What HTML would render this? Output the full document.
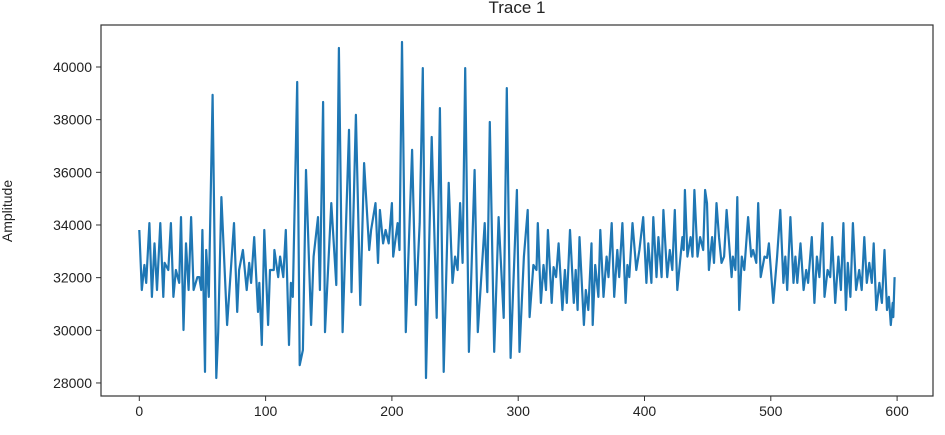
<!DOCTYPE html>
<html><head><meta charset="utf-8"><style>
body{margin:0;background:#fff;}
svg text{font-family:"Liberation Sans","DejaVu Sans",sans-serif;fill:#222;}
</style></head><body>
<svg id="chart" width="945" height="430" viewBox="0 0 945 430" xmlns="http://www.w3.org/2000/svg">
<text x="517" y="13" font-size="17" text-anchor="middle">Trace 1</text>
<text transform="translate(12,211) rotate(-90)" font-size="14" text-anchor="middle">Amplitude</text>
<g id="ticks"></g>
<path id="line" fill="none" stroke="#1f77b4" stroke-width="2.2" stroke-linejoin="round"/>
<rect x="101" y="25" width="832" height="371" fill="none" stroke="#333" stroke-width="1.2"/>
</svg>
<script>
const xTicks=[0,100,200,300,400,500,600];
const yTicks=[28000,30000,32000,34000,36000,38000,40000];
const sampleIdx=[0,2,4,5.5,8,10,12,14,16.6,19,20,23,25,27,29,31.6,33,35,37,39,41,43,46,47.5,49,50,52,53,55,58,61,62.5,65,69.5,75,77.5,79,82,85,87,88.5,91,94,95,97,99,102,103.5,106.5,107,110,111.5,114,116,118.5,120,121.5,125,127,129.5,132,136,138,141.5,143,145.5,147,152,156,158,161,166,168,171.5,175,178,182,183.5,187,189,190.5,193,195,197.5,200,201,204.5,206,208,211,216,219,222,224.5,227,231.5,235.5,238,241,245,248,250,252,254,256,258,261,265.5,268,273.5,275.5,277.5,281,284.5,288.5,291,294,299,301,304.5,307.5,309,312,314.5,315.5,318,320,322,323.5,326.5,328,330,332,335,337,338.5,341,344,345.5,347,348.5,352,353.5,355.5,358,359,361,363.5,365,367.5,370,371.5,374,376,378.5,380,382.5,385,386.5,388,390.5,393.5,396,399,401.5,403,405.5,407,409.5,411,413.5,415,418,420,422,424,426,430,431,432,434,436.5,438,439.5,442,444,446.5,448,449.5,451,453.5,455,457,459,461,463,465,469,470,472,473.5,475,477,479,482,484.5,486,488.5,490,492,495,497,498.5,502,505,507.5,510,511.5,513,515.5,518,519.5,521,523.5,526,528,529.5,532.5,534.5,536.5,538.5,541,542.5,545,547,548.5,551,553.5,555.5,557.5,559.5,561,563,565,567.5,570,572,574,576,578,580,581.5,583.5,586,588,590,592,593.5,595,596.5,597,598];
const amplitude=[33810,31530,32480,31800,34070,31270,33300,31530,34070,31270,32560,32290,34070,31270,32290,31800,34300,30010,33300,31530,34300,31530,32020,32020,31530,33810,28420,33050,31270,38940,28190,29930,35060,30200,34070,30700,32290,33050,31530,32560,31800,33540,30700,31800,29440,33810,30200,32290,32290,33050,32020,32800,32020,33810,29440,31800,31270,39430,28680,29250,36090,30200,32800,34300,31530,38670,29930,34830,31720,40720,29930,37610,31450,38180,30960,36350,33050,33810,34830,32560,34570,33300,33810,33300,34830,32800,34070,33050,40950,29930,36850,30960,34070,39960,28190,37340,30470,38440,28420,35600,31800,32800,32290,34830,32560,39960,29180,36090,29930,34070,31450,37910,29180,34300,30470,39200,28950,35330,29180,32800,34570,30500,32480,32290,34070,31040,32480,31530,33810,31040,32400,32020,33300,30770,32290,31040,33810,31040,32290,30770,33540,30200,31530,30770,33300,30200,32480,31270,33810,31270,32800,32020,34070,31270,33050,32020,34070,31040,32480,32020,34070,32290,33050,34300,31800,33300,31800,34300,32020,33540,32020,34570,32020,33050,32290,34570,31530,33540,33050,35330,32800,33540,32800,35330,32800,33540,33050,35330,34830,32290,33540,32560,34830,33540,32560,32800,34570,32020,32800,32290,35060,30770,32800,32290,34300,32800,33050,32560,34830,32020,32800,32750,33300,31040,32800,34570,31800,32800,31530,34300,31800,32800,31800,33300,31530,32290,31800,33540,31040,32800,32020,34070,31270,32290,32020,33540,31040,32800,31530,34070,30770,32560,31270,34070,31530,32290,31530,33540,31800,32560,31800,33300,30770,31800,31040,33050,30770,31270,30200,31040,30500,32020];
const L=101,R=933,T=25,B=396;
const xs=v=>139.3+v*1.263;
const ys=v=>67+(40000-v)*0.02633;
const ns="http://www.w3.org/2000/svg";
const g=document.getElementById('ticks');
function mk(tag,attrs){const e=document.createElementNS(ns,tag);for(const k in attrs)e.setAttribute(k,attrs[k]);return e;}
xTicks.forEach(t=>{
  const l=mk('line',{x1:xs(t),x2:xs(t),y1:B,y2:B+5,stroke:'#333'});
  
  
  g.appendChild(l);
  const tx=mk('text',{x:xs(t),y:B+20,'font-size':14,'text-anchor':'middle'});
  
  
  tx.textContent=t;g.appendChild(tx);
});
yTicks.forEach(t=>{
  const l=mk('line',{x1:L-5,x2:L,y1:ys(t),y2:ys(t),stroke:'#333'});
  
  
  g.appendChild(l);
  const tx=mk('text',{x:L-9,y:ys(t)+5,'font-size':14,'text-anchor':'end'});
  
  
  tx.textContent=t;g.appendChild(tx);
});
document.getElementById('line').setAttribute('d',sampleIdx.map((x,i)=>(i?'L':'M')+xs(x).toFixed(1)+','+ys(amplitude[i]).toFixed(1)).join(''));
</script>
</body></html>
